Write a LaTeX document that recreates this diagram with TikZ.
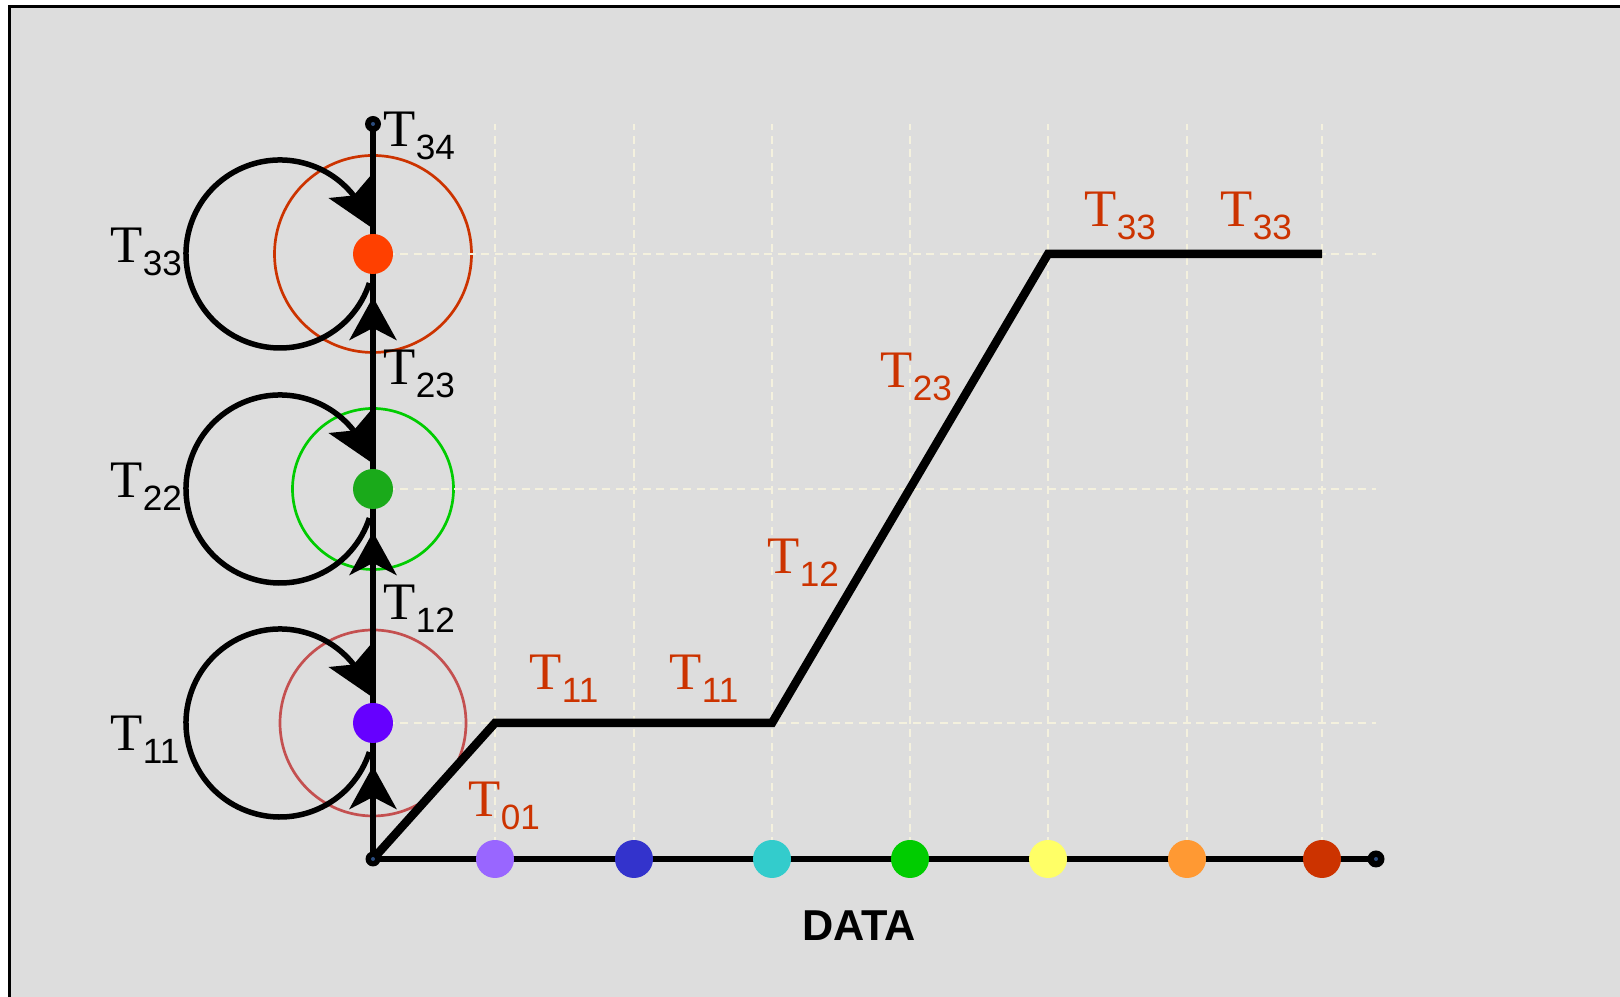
\documentclass[tikz,border=0pt]{standalone}
\usepackage{fontspec}
\setmainfont{Liberation Serif}
\setsansfont{Liberation Sans}
\usetikzlibrary{arrows.meta,bending,backgrounds,calc}

\definecolor{bggray}{HTML}{DDDDDD}
\definecolor{gridcream}{HTML}{F4F1DE}
\definecolor{labred}{HTML}{CC3300}
\definecolor{tipblue}{HTML}{2B4C7E}
\definecolor{st11}{HTML}{6600FF}
\definecolor{st22}{HTML}{1AAA1A}
\definecolor{st33}{HTML}{FF4000}
\definecolor{rg11}{HTML}{C45050}
\definecolor{rg22}{HTML}{00CC00}
\definecolor{rg33}{HTML}{CC3300}
\definecolor{dt1}{HTML}{9966FF}
\definecolor{dt2}{HTML}{3333CC}
\definecolor{dt3}{HTML}{33CCCC}
\definecolor{dt4}{HTML}{00CC00}
\definecolor{dt5}{HTML}{FFFF66}
\definecolor{dt6}{HTML}{FF9933}
\definecolor{dt7}{HTML}{CC3300}

\newcommand{\tsub}[1]{T\raisebox{-0.125cm}{\sffamily\fontsize{10}{10}\selectfont #1}}

\begin{document}
\begin{tikzpicture}[
    axis/.style={line width=0.06cm},
    datapath/.style={line width=0.085cm},
    gridline/.style={draw=gridcream, line width=0.024cm, dash pattern=on 0.08cm off 0.055cm},
    ring/.style={circle, draw, line width=0.027cm, inner sep=0pt},
    dot/.style={circle, inner sep=0pt, minimum size=0.38cm},
    state/.style={circle, inner sep=0pt, minimum size=0.40cm},
    tipdot/.style={circle, fill=black, inner sep=0pt, minimum size=#1,
        path picture={\fill[tipblue] (path picture bounding box.center) circle (0.02);}},
    upTip/.tip={Stealth[length=0.43cm, width=0.47cm, inset=0.12cm]},
    loopline/.style={line width=0.055cm, -{Stealth[length=0.44cm, width=0.46cm, inset=0.09cm]}},
    tlab/.style={anchor=base west, inner sep=0pt, font=\fontsize{15}{15}\selectfont},
]
\useasboundingbox (0,0) rectangle (16.2,9.97);

% states on the vertical axis
\node[state, fill=st11] (s11) at (3.73,2.74) {};
\node[state, fill=st22] (s22) at (3.73,5.08) {};
\node[state, fill=st33] (s33) at (3.73,7.43) {};

% data points
\foreach \i/\x in {1/4.95, 2/6.34, 3/7.72, 4/9.10, 5/10.48, 6/11.87, 7/13.22}
    \node[dot, fill=dt\i] (d\i) at (\x,1.38) {};

\node[tipdot=0.15cm] (o) at (3.73,1.38) {};
\node[tipdot=0.17cm] (e) at (13.76,1.38) {};
\node[tipdot=0.16cm] (t34) at (3.73,8.73) {};

\begin{scope}[on background layer]
    \fill[bggray] (0.097,9.903) rectangle (16.4,-0.2);
    \draw[line width=0.027cm] (0.097,-0.2) -- (0.097,9.903) -- (16.4,9.903);

    \node[ring, draw=rg11, minimum size=1.86cm] (r11) at (s11) {};
    \node[ring, draw=rg22, minimum size=1.61cm] (r22) at (s22) {};
    \node[ring, draw=rg33, minimum size=1.97cm] (r33) at (s33) {};

    % grid
    \foreach \i in {1,...,7}
        \draw[gridline] (d\i.center) -- (d\i |- t34);
    \foreach \s in {11,22,33}
        \draw[gridline] (s\s.center) -- (s\s -| e);

    % axes
    \draw[axis] (o.center) -- (t34.center);
    \draw[axis] (o.center) -- (e.center);
    \draw[axis, -{upTip}] (o.center) -- ([yshift=-0.43cm]s11.center);
    \draw[axis, -{upTip}] (s11.center) -- ([yshift=-0.43cm]s22.center);
    \draw[axis, -{upTip}] (s22.center) -- ([yshift=-0.43cm]s33.center);

    % self loops
    \foreach \s in {11,22,33} {
        \coordinate (c\s) at ([xshift=-0.93cm]s\s.center);
        \draw[loopline] ([shift={(-18:0.94)}]c\s) arc[start angle=-18, end angle=-343, radius=0.94];
    }

    % path through the data
    \draw[datapath] (o.center) -- (d1 |- s11) -- (d3 |- s11) -- (d5 |- s33) -- (d7 |- s33);
\end{scope}

% labels
\node[tlab] (l34) at (3.83,8.50) {\tsub{34}};
\node[tlab] (l33) at (1.10,7.34) {\tsub{33}};
\node[tlab] (l23) at (3.83,6.12) {\tsub{23}};
\node[tlab] (l22) at (1.10,4.99) {\tsub{22}};
\node[tlab] (l12) at (3.83,3.77) {\tsub{12}};
\node[tlab] (l11) at (1.10,2.46) {\tsub{11}};

\node[tlab, labred] (p01) at (4.68,1.80) {\tsub{01}};
\node[tlab, labred] (p11a) at (5.29,3.07) {\tsub{11}};
\node[tlab, labred] (p11b) at (6.69,3.07) {\tsub{11}};
\node[tlab, labred] (p12) at (7.67,4.23) {\tsub{12}};
\node[tlab, labred] (p23) at (8.80,6.09) {\tsub{23}};
\node[tlab, labred] (p33a) at (10.84,7.70) {\tsub{33}};
\node[tlab, labred] (p33b) at (12.20,7.70) {\tsub{33}};

\node[anchor=base, inner sep=0pt, font=\sffamily\bfseries\fontsize{12.3}{13}\selectfont] (datalab) at (8.59,0.56) {DATA};
\end{tikzpicture}
\end{document}
